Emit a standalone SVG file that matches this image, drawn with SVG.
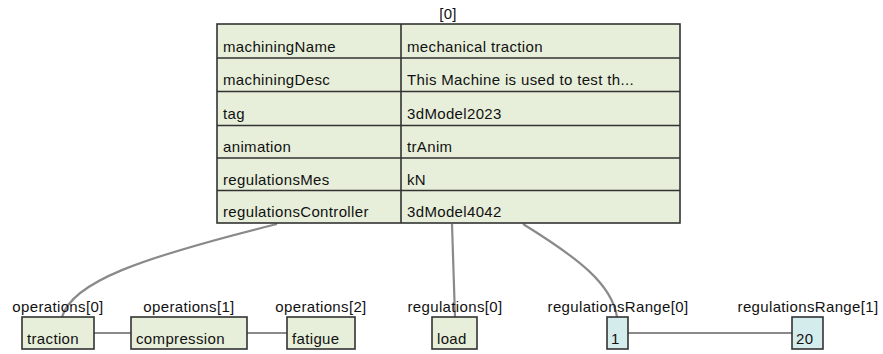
<svg xmlns="http://www.w3.org/2000/svg" width="883" height="354" viewBox="0 0 883 354">
<style>
text{font-family:"Liberation Sans",Arial,sans-serif;font-size:15px;letter-spacing:0.35px;fill:#111}
.t{text-anchor:middle}
.g{fill:#e7efda;stroke:#333;stroke-width:1.6}
.b{fill:#d5ecec;stroke:#333;stroke-width:1.6}
.ln{stroke:#333;stroke-width:1.6;fill:none}
.c{stroke:#8a8a8a;stroke-width:2.2;fill:none}
</style>
<g id="connectors">
<path class="c" d="M277 224 C140 258 72 282 62 317"/>
<path class="c" d="M452 224 L455 317"/>
<path class="c" d="M523 224 C578 258 612 284 617 317"/>
<path class="c" d="M94 333 L131 333"/>
<path class="c" d="M247 333 L287 333"/>
<path class="c" d="M628 333 L792 333"/>
</g>
<g id="node-root">
<text class="t" x="448" y="19">[0]</text>
<rect class="g" x="217" y="24" width="463" height="199"/>
<path class="ln" d="M401 24 V223 M217 58 H680 M217 91.5 H680 M217 125.5 H680 M217 158 H680 M217 190.5 H680"/>
<text x="223" y="52">machiningName</text><text x="407" y="52">mechanical traction</text>
<text x="223" y="85">machiningDesc</text><text x="407" y="85">This Machine is used to test th...</text>
<text x="223" y="119">tag</text><text x="407" y="119">3dModel2023</text>
<text x="223" y="152">animation</text><text x="407" y="152">trAnim</text>
<text x="223" y="185">regulationsMes</text><text x="407" y="185">kN</text>
<text x="223" y="217">regulationsController</text><text x="407" y="217">3dModel4042</text>
</g>
<g id="node-op0">
<text class="t" x="58" y="312">operations[0]</text>
<rect class="g" x="22" y="317" width="72" height="32"/>
<text x="27" y="344">traction</text>
</g>
<g id="node-op1">
<text class="t" x="189" y="312">operations[1]</text>
<rect class="g" x="131" y="317" width="116" height="32"/>
<text x="136" y="344">compression</text>
</g>
<g id="node-op2">
<text class="t" x="321" y="312">operations[2]</text>
<rect class="g" x="287" y="317" width="68" height="32"/>
<text x="292" y="344">fatigue</text>
</g>
<g id="node-reg0">
<text class="t" x="455" y="312">regulations[0]</text>
<rect class="g" x="432" y="317" width="45" height="32"/>
<text x="437" y="344">load</text>
</g>
<g id="node-range0">
<text class="t" x="618" y="312">regulationsRange[0]</text>
<rect class="b" x="607" y="317" width="21" height="32"/>
<text x="611" y="344">1</text>
</g>
<g id="node-range1">
<text class="t" x="808" y="312">regulationsRange[1]</text>
<rect class="b" x="792" y="317" width="31" height="32"/>
<text x="796" y="344">20</text>
</g>
</svg>
